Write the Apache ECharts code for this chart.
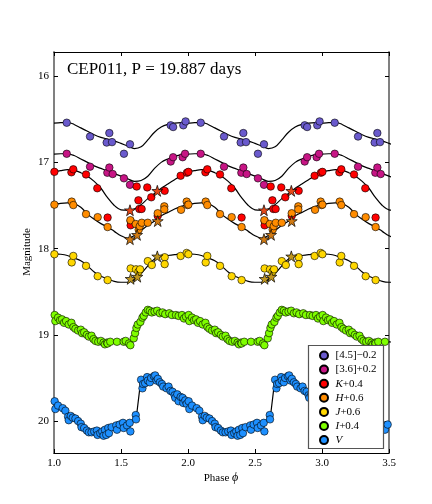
<!DOCTYPE html>
<html>
<head>
<meta charset="utf-8">
<script src="https://cdn.jsdelivr.net/npm/echarts@6/dist/echarts.min.js"></script>
<style>html,body{margin:0;padding:0;background:#fff;}#c{width:432px;height:504px;}</style>
</head>
<body>
<div id="c"></div>
<script>
// ---- data (phase in 0..1, magnitude) ----
const phaseGrid = [0,0.05,0.1,0.15,0.2,0.25,0.3,0.35,0.4,0.45,0.5,0.55,0.6,0.65,0.7,0.75,0.8,0.85,0.9,0.95,1.0];
const curve45 = [16.545,16.54,16.535,16.56,16.60,16.64,16.68,16.71,16.73,16.75,16.78,16.81,16.84,16.82,16.74,16.65,16.59,16.56,16.545,16.54,16.545];
const curve36 = [16.905,16.90,16.90,16.92,16.96,17.00,17.04,17.07,17.10,17.13,17.16,17.19,17.22,17.21,17.16,17.07,17.00,16.96,16.93,16.91,16.905];
const curveK  = [17.11,17.095,17.085,17.09,17.12,17.16,17.22,17.30,17.41,17.50,17.55,17.555,17.54,17.49,17.42,17.36,17.30,17.25,17.20,17.15,17.11];
const curveH  = [17.49,17.475,17.47,17.48,17.52,17.60,17.66,17.71,17.75,17.80,17.85,17.88,17.85,17.79,17.73,17.68,17.62,17.58,17.54,17.51,17.49];
const curveJ  = [18.06,18.065,18.08,18.11,18.14,18.20,18.27,18.32,18.35,18.38,18.39,18.39,18.36,18.29,18.20,18.12,18.09,18.08,18.07,18.06,18.06];
const curveIph = [0,0.05,0.1,0.15,0.2,0.25,0.3,0.35,0.4,0.45,0.5,0.55,0.58,0.6,0.62,0.65,0.68,0.72,0.76,0.8,0.85,0.9,0.95,1.0];
const curveI   = [18.78,18.83,18.87,18.91,18.95,19.00,19.04,19.07,19.09,19.09,19.08,19.09,19.08,18.98,18.90,18.83,18.76,18.71,18.72,18.74,18.76,18.77,18.78,18.78];
const curveVph = [0,0.05,0.1,0.15,0.2,0.25,0.3,0.35,0.4,0.45,0.5,0.55,0.6,0.615,0.645,0.67,0.7,0.75,0.8,0.85,0.9,0.95,1.0];
const curveV   = [19.80,19.85,19.93,19.98,20.04,20.10,20.13,20.14,20.12,20.08,20.05,20.03,19.97,19.95,19.56,19.53,19.51,19.49,19.55,19.61,19.68,19.74,19.80];

const pts45 = [[0.095,16.54],[0.269,16.70],[0.413,16.66],[0.393,16.77],[0.433,16.765],[0.567,16.79],[0.522,16.90],[0.871,16.57],[0.889,16.59],[0.965,16.57],[0.982,16.525]];
const pts36 = [[0.095,16.90],[0.269,17.05],[0.413,17.06],[0.398,17.12],[0.438,17.135],[0.522,17.185],[0.567,17.26],[0.871,16.99],[0.889,16.94],[0.96,16.94],[0.978,16.90]];
const ptsK = [[0.003,17.11],[0.13,17.115],[0.144,17.08],[0.239,17.14],[0.323,17.30],[0.40,17.64],[0.572,17.68],[0.572,17.73],[0.617,17.28],[0.696,17.29],[0.63,17.44],[0.637,17.54],[0.654,17.54],[0.726,17.405],[0.774,17.62],[0.826,17.33],[0.945,17.155],[0.992,17.12]];
const ptsH = [[0.003,17.49],[0.132,17.455],[0.144,17.495],[0.239,17.60],[0.326,17.635],[0.40,17.75],[0.57,17.67],[0.61,17.715],[0.632,17.78],[0.64,17.74],[0.655,17.70],[0.70,17.70],[0.774,17.59],[0.823,17.51],[0.823,17.545],[0.948,17.55],[0.99,17.455],[0.997,17.495]];
const ptsJ = [[0.003,18.065],[0.144,18.085],[0.132,18.16],[0.239,18.20],[0.326,18.32],[0.40,18.365],[0.572,18.23],[0.612,18.24],[0.642,18.24],[0.63,18.27],[0.70,18.145],[0.73,18.19],[0.826,18.10],[0.826,18.18],[0.945,18.085],[0.99,18.05]];
const starK = [[0.567,17.555],[0.771,17.33]];
const starH = [[0.567,17.89],[0.62,17.84],[0.774,17.68]];
const starJ = [[0.572,18.35],[0.622,18.325],[0.771,18.09]];
const ptsI = [[0.005,18.77],[0.01,18.84],[0.03,18.80],[0.045,18.83],[0.06,18.82],[0.075,18.86],[0.09,18.84],[0.11,18.88],[0.13,18.86],[0.145,18.91],[0.16,18.93],[0.18,18.95],[0.2,18.94],[0.21,18.98],[0.225,18.97],[0.245,19.00],[0.26,19.02],[0.28,19.01],[0.295,19.05],[0.31,19.07],[0.33,19.08],[0.35,19.07],[0.37,19.09],[0.38,19.11],[0.395,19.09],[0.40,19.10],[0.42,19.08],[0.47,19.08],[0.52,19.08],[0.535,19.07],[0.56,19.10],[0.57,19.12],[0.595,19.04],[0.605,18.98],[0.615,18.92],[0.625,18.88],[0.645,18.85],[0.66,18.80],[0.67,18.78],[0.685,18.74],[0.70,18.71],[0.715,18.72],[0.73,18.74],[0.75,18.73],[0.77,18.72],[0.79,18.75],[0.81,18.74],[0.83,18.76],[0.86,18.75],[0.88,18.77],[0.91,18.77],[0.93,18.78],[0.955,18.77],[0.97,18.81],[0.985,18.79]];
const ptsV = [[0.005,19.77],[0.01,19.86],[0.03,19.82],[0.065,19.85],[0.085,19.88],[0.105,19.95],[0.11,19.99],[0.125,19.94],[0.14,19.96],[0.16,19.97],[0.18,20.00],[0.2,20.03],[0.205,20.07],[0.225,20.08],[0.245,20.11],[0.26,20.13],[0.28,20.13],[0.3,20.12],[0.32,20.11],[0.325,20.16],[0.345,20.14],[0.36,20.12],[0.37,20.17],[0.38,20.10],[0.39,20.16],[0.405,20.08],[0.41,20.14],[0.43,20.07],[0.465,20.05],[0.47,20.10],[0.49,20.04],[0.515,20.02],[0.52,20.08],[0.545,20.05],[0.565,20.02],[0.57,20.12],[0.61,19.93],[0.612,19.98],[0.65,19.52],[0.66,19.62],[0.665,19.57],[0.68,19.56],[0.695,19.49],[0.70,19.53],[0.715,19.55],[0.725,19.50],[0.745,19.48],[0.755,19.47],[0.765,19.53],[0.775,19.51],[0.79,19.55],[0.805,19.57],[0.815,19.60],[0.84,19.62],[0.855,19.60],[0.87,19.65],[0.885,19.66],[0.9,19.70],[0.905,19.73],[0.92,19.69],[0.93,19.77],[0.945,19.72],[0.96,19.73],[0.965,19.79],[0.98,19.76],[0.99,19.80]];

const names = ['[4.5]\u22120.2','[3.6]+0.2','K+0.4','H+0.6','J+0.6','I+0.4','V'];
const colors = ['#6a5acd','#c71585','#ff0000','#ff8c00','#ffd700','#7fff00','#1e90ff'];
const starColors = ['#e4491a','#d07a14','#c0961e'];
const yTicks = [16,17,18,19,20];
const xMin = 1.0, xMax = 3.5, yMin = 15.72, yMax = 20.37;

// ---- helpers: repeat a folded light curve over the plotted phase range ----
function fold(pts){
  const out=[];
  for (let k=1;k<=3;k++) for (const [p,m] of pts){ const x=p+k; if (x>=xMin-0.001 && x<=xMax+0.001) out.push([x,m]); }
  return out.sort((a,b)=>a[0]-b[0]);
}
function foldCurve(ph, vals){
  const pts=[];
  for (let k=1;k<=3;k++) for (let i=0;i<ph.length;i++){ if (k>1 && i===0) continue; pts.push([ph[i]+k,vals[i]]); }
  return pts.filter(p=>p[0]<=xMax+0.2);
}

const serif = 'Liberation Serif, DejaVu Serif, serif';
const starPath = 'path://M50,0 L61.8,35.5 L99,35.5 L69,57.5 L80.3,93 L50,71 L19.7,93 L31,57.5 L1,35.5 L38.2,35.5 Z';

const series = [];
const curveDefs = [[phaseGrid,curve45,true],[phaseGrid,curve36,true],[phaseGrid,curveK,true],[phaseGrid,curveH,true],[phaseGrid,curveJ,true],[curveIph,curveI,false],[curveVph,curveV,false]];
curveDefs.forEach(([ph,v,sm])=>{
  series.push({type:'line', data: foldCurve(ph,v), smooth: sm?0.35:false, showSymbol:false, symbol:'none', silent:true,
    lineStyle:{color:'#000', width:1.2}, z:2, clip:true});
});
const ptSets = [pts45,pts36,ptsK,ptsH,ptsJ,ptsI,ptsV];
ptSets.forEach((p,i)=>{
  series.push({type:'scatter', name:names[i], data: fold(p), symbol:'circle', symbolSize:7.5,
    itemStyle:{color:colors[i], borderColor:'#000', borderWidth:0.6, opacity:1}, z:3, clip:true});
});
[starK,starH,starJ].forEach((p,i)=>{
  series.push({type:'scatter', data: fold(p), symbol:starPath, symbolSize:11,
    itemStyle:{color:starColors[i], borderColor:'#000', borderWidth:0.7, opacity:1}, z:4, clip:true});
});

const axisCommon = {
  axisLine:{show:true, onZero:false, lineStyle:{color:'#000', width:1}},
  splitLine:{show:false}
};

const option = {
  animation:false,
  backgroundColor:'#fff',
  grid:{left:54, right:43, top:52, bottom:51},
  xAxis:[
    Object.assign({type:'value', min:xMin, max:xMax, interval:0.5, position:'bottom',
      axisTick:{inside:true, length:4, lineStyle:{color:'#000'}},
      axisLabel:{margin:5, fontFamily:serif, fontSize:11, color:'#000', formatter:v=>v.toFixed(1)}}, axisCommon),
    Object.assign({type:'value', min:xMin, max:xMax, interval:0.5, position:'top',
      axisTick:{inside:true, length:4, lineStyle:{color:'#000'}}, axisLabel:{show:false}}, axisCommon)
  ],
  yAxis:[
    Object.assign({type:'value', min:yMin, max:yMax, inverse:true, position:'left',
      axisTick:{inside:true, length:4, customValues:yTicks, lineStyle:{color:'#000'}},
      axisLabel:{margin:5, fontFamily:serif, fontSize:11, color:'#000', customValues:yTicks, formatter:v=>String(v)}}, axisCommon,
      {axisLine:{show:true, onZero:false, lineStyle:{color:'#808080', width:2}}}),
    Object.assign({type:'value', min:yMin, max:yMax, inverse:true, position:'right',
      axisTick:{inside:true, length:4, customValues:yTicks, lineStyle:{color:'#000'}},
      axisLabel:{show:false, customValues:yTicks}}, axisCommon,
      {axisLine:{show:true, onZero:false, lineStyle:{color:'#808080', width:2}}})
  ],
  legend:{
    data:names, orient:'vertical', left:308, top:349, padding:[0,4,0,11],
    itemWidth:13, itemHeight:8, itemGap:1.1, icon:'circle',
    textStyle:{fontFamily:serif, fontSize:11, lineHeight:13, color:'#000', rich:{i:{fontFamily:serif, fontSize:11, lineHeight:13, fontStyle:'italic', color:'#000'}}},
    formatter: n => n.replace(/^([KHJIV])/, '{i|$1}'),
    selectedMode:false, z:10
  },
  graphic:[
    {type:'rect', shape:{x:308.5, y:345.5, width:75, height:103}, style:{fill:'#fff', stroke:'#555', lineWidth:1.2}, z:9},
    {type:'text', x:67, y:70, style:{text:'CEP011, P = 19.887 days', font:'17px '+serif, fill:'#000', verticalAlign:'middle'}, z:10},
    {type:'text', x:27, y:252, rotation:Math.PI/2, style:{text:'Magnitude', font:'11px '+serif, fill:'#000', align:'center', verticalAlign:'middle'}, z:10},
    {type:'text', x:221, y:478, style:{text:'Phase {i|\u03d5}', font:'11px '+serif, fill:'#000', align:'center', verticalAlign:'middle', rich:{i:{fontStyle:'italic', fontSize:12, fontFamily:serif}}}, z:10}
  ],
  series: series
};
const chart = echarts.init(document.getElementById('c'), null, {renderer:'canvas'});
chart.setOption(option);
</script>
</body>
</html>
